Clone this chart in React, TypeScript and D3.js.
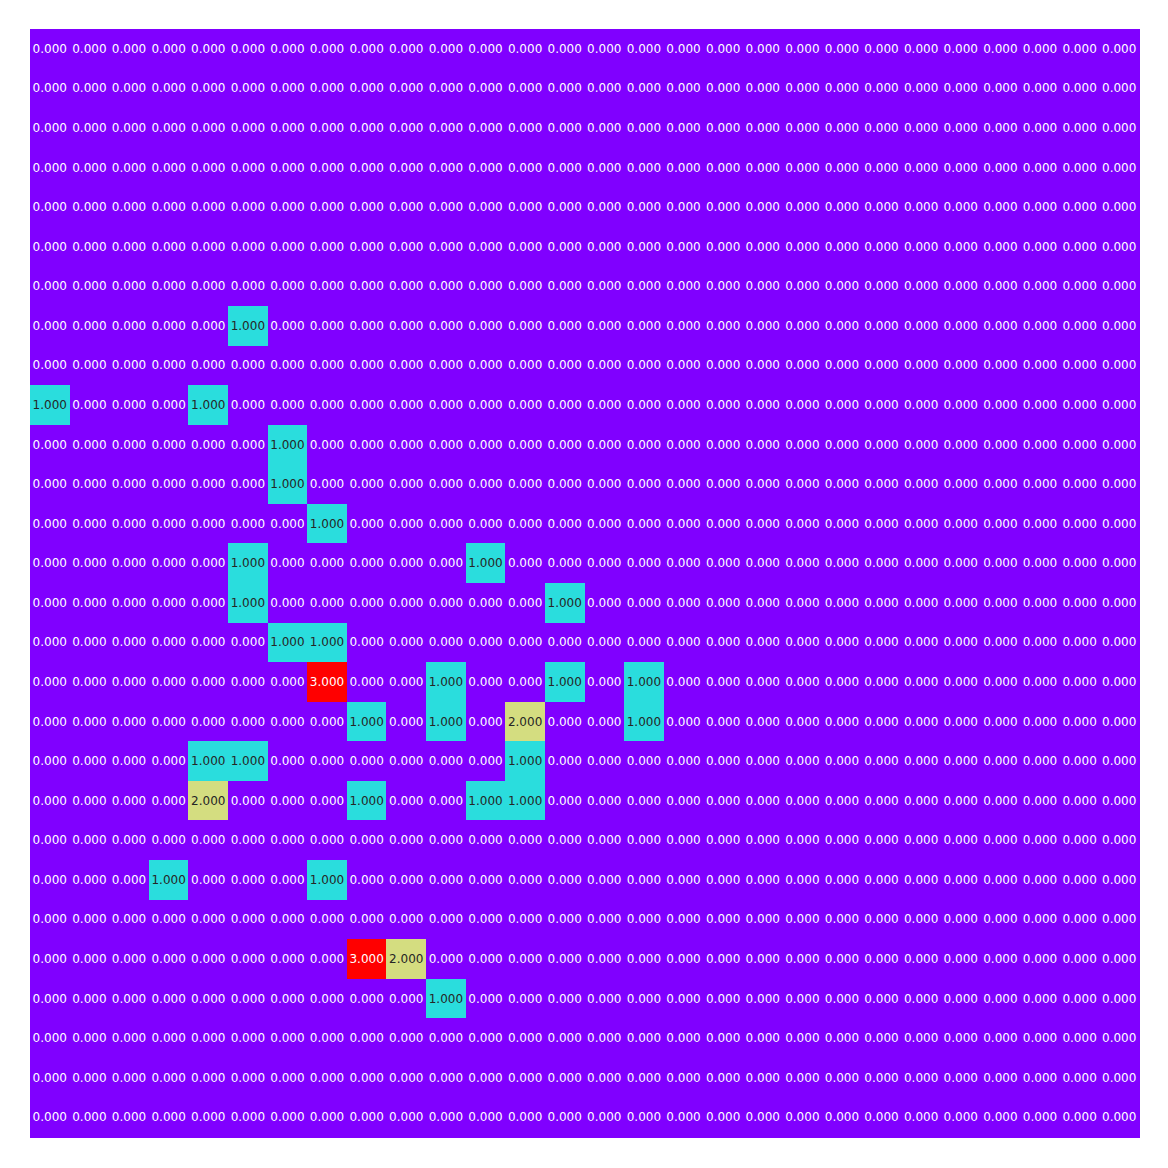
import React, { useRef, useEffect } from 'react';
import * as d3 from 'd3';

const N = 28;
const rows = d3.range(N);
const cols = d3.range(N);

// nonzero cells: [row, col, value]
const hits: [number, number, number][] = [
  [7, 5, 1],
  [9, 0, 1], [9, 4, 1],
  [10, 6, 1],
  [11, 6, 1],
  [12, 7, 1],
  [13, 5, 1], [13, 11, 1],
  [14, 5, 1], [14, 13, 1],
  [15, 6, 1], [15, 7, 1],
  [16, 7, 3], [16, 10, 1], [16, 13, 1], [16, 15, 1],
  [17, 8, 1], [17, 10, 1], [17, 12, 2], [17, 15, 1],
  [18, 4, 1], [18, 5, 1], [18, 12, 1],
  [19, 4, 2], [19, 8, 1], [19, 11, 1], [19, 12, 1],
  [21, 3, 1], [21, 7, 1],
  [23, 8, 3], [23, 9, 2],
  [24, 10, 1],
];

const App: React.FC = () => {
  const svgRef = useRef<SVGSVGElement>(null);
  const width = 1168;
  const height = 1168;

  useEffect(() => {
    const svg = d3.select(svgRef.current);
    svg.selectAll('*').remove();

    const grid: number[][] = rows.map(() => cols.map(() => 0));
    hits.forEach(([r, c, v]) => { grid[r][c] = v; });
    const cells = rows.flatMap(r => cols.map(c => ({ r, c, v: grid[r][c] })));

    const x = d3.scaleBand<number>().domain(cols).range([30, 1139]);
    const y = d3.scaleBand<number>().domain(rows).range([29, 1137]);
    const color = d3.scaleOrdinal<number, string>()
      .domain([0, 1, 2, 3])
      .range(['#8000ff', '#2adddd', '#d4dd80', '#ff0000']);

    const g = svg.append('g');
    g.selectAll('rect')
      .data(cells)
      .enter()
      .append('rect')
      .attr('x', d => x(d.c)!)
      .attr('y', d => y(d.r)!)
      .attr('width', x.bandwidth() + 0.6)
      .attr('height', y.bandwidth() + 0.6)
      .attr('shape-rendering', 'crispEdges')
      .attr('fill', d => color(d.v));

    g.selectAll('text')
      .data(cells)
      .enter()
      .append('text')
      .attr('x', d => x(d.c)! + x.bandwidth() / 2)
      .attr('y', d => y(d.r)! + y.bandwidth() / 2)
      .attr('text-anchor', 'middle')
      .attr('dominant-baseline', 'central')
      .attr('font-family', 'DejaVu Sans')
      .attr('font-size', 12)
      .attr('fill', d => (d.v === 1 || d.v === 2 ? '#262626' : '#ffffff'))
      .text(d => d.v.toFixed(3));
  }, []);

  return (
    <svg ref={svgRef} width={width} height={height}
      style={{ position: 'absolute', left: 0, top: 0, background: '#fff' }} />
  );
};

export default App;
